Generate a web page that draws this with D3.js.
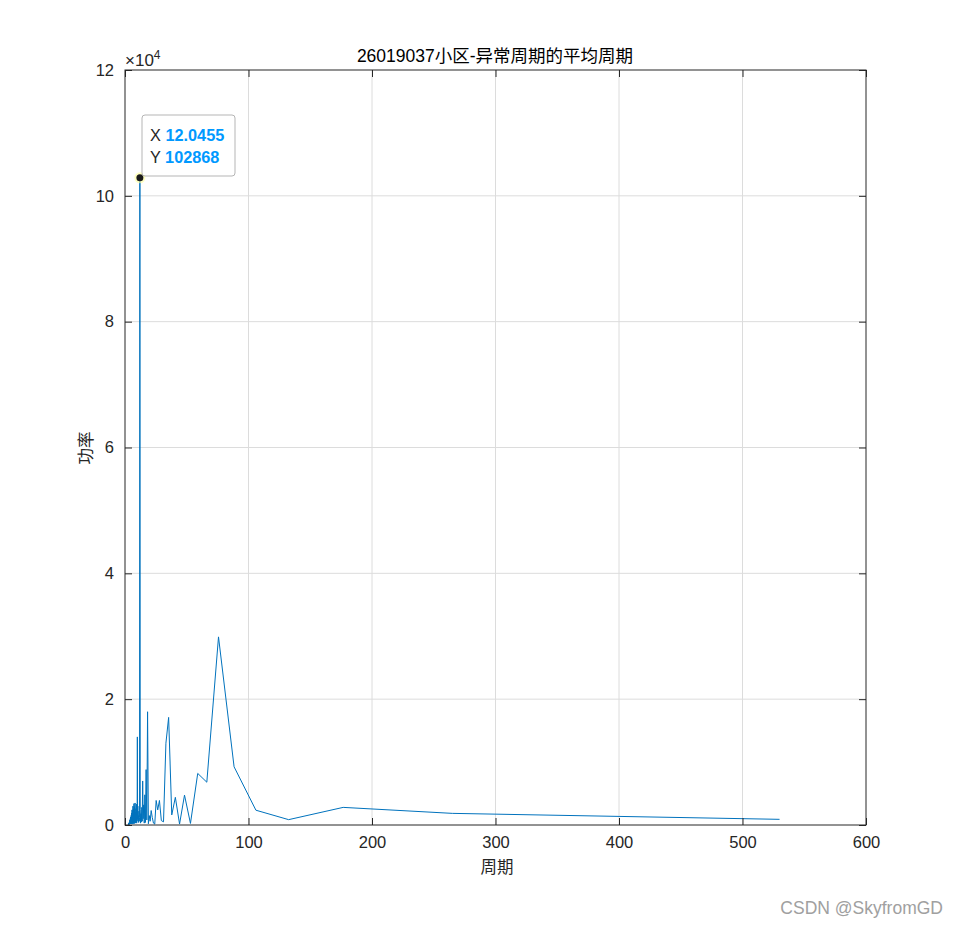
<!DOCTYPE html>
<html><head><meta charset="utf-8">
<script src="https://cdn.jsdelivr.net/npm/d3@7"></script>
<style>
body{margin:0;background:#fff;}
svg{display:block;}
</style></head>
<body>
<svg id="chart" width="958" height="927"></svg>
<script>
const titleText = "26019037小区-异常周期的平均周期";
const xLabel = "周期";
const yLabel = "功率";
const xTicks = [0,100,200,300,400,500,600];
const yTicks = [0,2,4,6,8,10,12];
const periods = [530,265,176.67,132.5,106,88.33,75.71,66.25,58.89,53,48.18,44.17,40.77,37.86,35.33,33.13,31.18,29.44,27.89,26.5,25.24,24.09,23.04,22.08,21.2,20.38,19.63,18.93,18.28,17.67,17.1,16.56,16.06,15.59,15.14,14.72,14.32,13.95,13.59,13.25,12.93,12.62,12.33,12.0455,11.78,11.52,11.28,11.04,10.82,10.6,10.39,10.19,10.0,9.81,9.64,9.46,9.3,9.14,8.98,8.83,8.69,8.55,
8.41,8.28,8.15,8.03,7.91,7.79,7.68,7.57,7.46,7.36,7.26,7.16,7.07,6.97,6.88,6.79,6.71,6.63,6.54,6.46,6.39,6.31,6.24,6.16,6.09,6.02,5.96,5.89,5.82,5.76,5.70,5.64,5.58,5.52,5.46,5.41,5.35,5.30,5.25,5.20,5.15,5.10,5.05,5.0,4.91,4.82,4.73,4.65,4.57,4.49,4.42,4.34,4.27,4.21,4.14,4.08,3.93,3.79,3.66,3.53,3.42,3.31,3.21,3.12,3.03,2.94,2.86,2.79,2.72];
const power = [900,1850,2800,850,2350,9250,29900,6800,8200,250,4750,150,4400,1600,17100,13000,500,700,3900,2400,3900,150,300,1200,2300,600,1500,200,18000,800,8800,400,4800,300,3200,1000,7000,600,2800,500,1800,300,2500,102868,1200,600,2200,400,1500,800,3000,1000,14000,600,1800,300,3300,500,1200,2600,300,1000,
2000,400,3500,700,1500,300,2900,600,1200,200,3400,500,1800,300,900,2500,400,1100,200,3000,600,1400,300,800,2200,400,1000,200,1700,500,2400,300,900,1500,200,700,1900,400,1100,300,800,1600,200,600,1200,300,900,500,1300,200,700,400,1000,200,600,300,800,200,500,100,400,150,300,100,250,80,200,60,150];
const tipX = 12.0455, tipY = 102868;

const svg = d3.select("#chart");
const L = 125, R = 866, T = 70, B = 825;
const x = d3.scaleLinear().domain([0,600]).range([L,R]);
const y = d3.scaleLinear().domain([0,120000]).range([B,T]);
const font = "'Liberation Sans', Arial, Helvetica, sans-serif";
const cjk = "'Noto Sans CJK SC', sans-serif";

// grid
svg.append("g").selectAll("line").data(xTicks.slice(1,-1)).join("line")
  .attr("x1",d=>x(d)).attr("x2",d=>x(d)).attr("y1",T).attr("y2",B)
  .attr("stroke","#dcdcdc").attr("stroke-width",1);
svg.append("g").selectAll("line").data(yTicks.slice(1,-1)).join("line")
  .attr("y1",d=>y(d*1e4)).attr("y2",d=>y(d*1e4)).attr("x1",L).attr("x2",R)
  .attr("stroke","#dcdcdc").attr("stroke-width",1);

// line
const data = periods.map((p,i)=>[p,power[i]]).sort((a,b)=>a[0]-b[0]);
svg.append("path").datum(data)
  .attr("fill","none").attr("stroke","#0072BD").attr("stroke-width",1)
  .attr("d", d3.line().x(d=>x(d[0])).y(d=>y(d[1])));

// axes
const ax = svg.append("g").attr("transform",`translate(0,${B})`)
  .call(d3.axisBottom(x).tickValues(xTicks).tickSize(-7).tickPadding(11).tickFormat(d3.format("d")));
const axT = svg.append("g").attr("transform",`translate(0,${T})`)
  .call(d3.axisTop(x).tickValues(xTicks).tickSize(-7).tickFormat(""));
const ay = svg.append("g").attr("transform",`translate(${L},0)`)
  .call(d3.axisLeft(y).tickValues(yTicks.map(v=>v*1e4)).tickSize(-7).tickPadding(11).tickFormat(d=>d/1e4));
const ayR = svg.append("g").attr("transform",`translate(${R},0)`)
  .call(d3.axisRight(y).tickValues(yTicks.map(v=>v*1e4)).tickSize(-7).tickFormat(""));
[ax,axT,ay,ayR].forEach(g=>{
  g.selectAll("path").remove();
  g.selectAll("line").attr("stroke","#262626").attr("stroke-width",1);
  g.selectAll("text").attr("fill","#262626").style("font-family",font).style("font-size","16.5px");
});
svg.append("rect").attr("x",L).attr("y",T).attr("width",R-L).attr("height",B-T)
  .attr("fill","none").attr("stroke","#262626").attr("stroke-width",1);

// exponent
const ex = svg.append("text").attr("x",125).attr("y",66).attr("fill","#262626")
  .style("font-family",font).style("font-size","17px");
ex.append("tspan").text("×10");
ex.append("tspan").attr("dy",-7).style("font-size","12px").text("4");

// title & labels
svg.append("text").attr("x",495).attr("y",62).attr("text-anchor","middle")
  .style("font-family",`'Liberation Sans', ${cjk}`).style("font-size","17.5px").attr("fill","#000").text(titleText);
svg.append("text").attr("x",497).attr("y",873).attr("text-anchor","middle")
  .style("font-family",cjk).style("font-size","16.5px").attr("fill","#262626").text(xLabel);
svg.append("text").attr("transform","translate(92,448) rotate(-90)").attr("text-anchor","middle")
  .style("font-family",cjk).style("font-size","16.5px").attr("fill","#262626").text(yLabel);

// datatip
const px = x(tipX), py = y(tipY);
svg.append("circle").attr("cx",px).attr("cy",py).attr("r",5.5).attr("fill","#ffff99").attr("opacity",0.6);
svg.append("circle").attr("cx",px).attr("cy",py).attr("r",3.5).attr("fill","#1a1a1a");
svg.append("rect").attr("x",142).attr("y",115).attr("width",93).attr("height",61).attr("rx",3)
  .attr("fill","#fff").attr("fill-opacity",0.92).attr("stroke","#b5b5b5").attr("stroke-width",1);
const tt = [["X", tipX.toString()],["Y", String(tipY)]];
tt.forEach((r,i)=>{
  const t = svg.append("text").attr("x",150).attr("y",141+i*22).style("font-family",font).style("font-size","16.3px");
  t.append("tspan").attr("fill","#262626").text(r[0]+" ");
  t.append("tspan").attr("fill","#0099ff").attr("font-weight","bold").text(r[1]);
});

// watermark
svg.append("text").attr("x",943).attr("y",914).attr("text-anchor","end")
  .style("font-family",font).style("font-size","17.5px").attr("fill","#a0a0a0")
  .text("CSDN @SkyfromGD");
</script>
</body></html>
